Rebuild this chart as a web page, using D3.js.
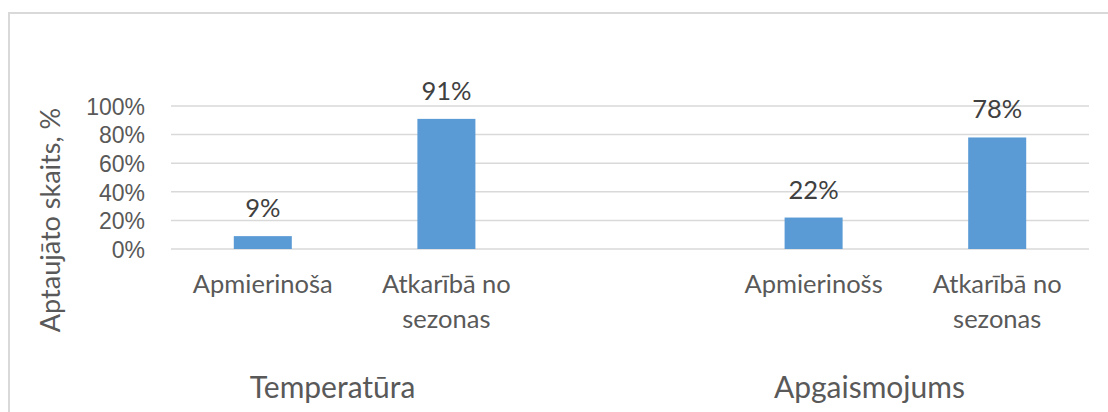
<!DOCTYPE html>
<html>
<head>
<meta charset="utf-8">
<script src="https://cdn.jsdelivr.net/npm/d3@7"></script>
<style>
  body { margin: 0; background: #fff; }
  svg { display: block; font-family: Lato, "Open Sans", sans-serif; }
</style>
</head>
<body>
<svg id="chart" width="1108" height="412"></svg>
<script>
// data
const slots = ["t1", "t2", "gap", "a1", "a2"];
const barSlots = ["t1", "t2", "a1", "a2"];
const categories = [["Apmierinoša"], ["Atkarībā no", "sezonas"], ["Apmierinošs"], ["Atkarībā no", "sezonas"]];
const values = [9, 91, 22, 78];
const groups = ["Temperatūra", "Apgaismojums"];
const groupSlots = [["t1", "t2"], ["a1", "a2"]];
const groupShift = [-22, -36]; // labels sit a bit left of the group middle
const yTicks = [0, 20, 40, 60, 80, 100];
const yTitle = "Aptaujāto skaits, %";

const svg = d3.select("#chart");
const plotL = 171, plotR = 1089, plotT = 106, plotB = 249;

// outer frame
svg.append("rect")
  .attr("x", 9).attr("y", 13)
  .attr("width", 1120).attr("height", 420)
  .attr("fill", "none")
  .attr("stroke", "#d9d9d9")
  .attr("stroke-width", 2);

const x = d3.scaleBand().domain(slots).range([plotL, plotR]).paddingInner(0).paddingOuter(0);
const y = d3.scaleLinear().domain([0, 100]).range([plotB, plotT]);
const barW = x.bandwidth() * 0.316;

// gridlines
svg.append("g")
  .selectAll("line")
  .data(yTicks)
  .enter().append("line")
  .attr("x1", plotL).attr("x2", plotR)
  .attr("y1", d => y(d)).attr("y2", d => y(d))
  .attr("stroke", "#d9d9d9")
  .attr("stroke-width", 1.5);

// y axis labels
const yAxis = svg.append("g")
  .attr("transform", `translate(${plotL - 26},0)`)
  .call(d3.axisLeft(y).tickValues(yTicks).tickSize(0).tickPadding(0).tickFormat(d => d + "%"));
yAxis.select(".domain").remove();
yAxis.selectAll("text")
  .attr("fill", "#595959")
  .style("font-size", "23px")
  .attr("dy", "0.36em");

// y title
svg.append("text")
  .attr("transform", `translate(60,220) rotate(-90)`)
  .attr("text-anchor", "middle")
  .attr("fill", "#595959")
  .style("font-size", "27px")
  .text(yTitle);

// bars
svg.append("g")
  .selectAll("rect")
  .data(values)
  .enter().append("rect")
  .attr("x", (d, i) => x(barSlots[i]) + x.bandwidth() / 2 - barW / 2)
  .attr("y", d => y(d))
  .attr("width", barW)
  .attr("height", d => y(0) - y(d))
  .attr("fill", "#5b9bd5");

// data labels
svg.append("g")
  .selectAll("text")
  .data(values)
  .enter().append("text")
  .attr("x", (d, i) => x(barSlots[i]) + x.bandwidth() / 2)
  .attr("y", d => y(d) - 19)
  .attr("text-anchor", "middle")
  .attr("fill", "#404040")
  .style("font-size", "25.5px")
  .text(d => d + "%");

// category labels
const cat = svg.append("g")
  .selectAll("text")
  .data(categories)
  .enter().append("text")
  .attr("text-anchor", "middle")
  .attr("fill", "#595959")
  .style("font-size", "25.5px");
cat.selectAll("tspan")
  .data((d, i) => d.map(line => ({ line, i })))
  .enter().append("tspan")
  .attr("x", d => x(barSlots[d.i]) + x.bandwidth() / 2)
  .attr("y", (d, j) => 293 + j * 35)
  .text(d => d.line);

// group labels
svg.append("g")
  .selectAll("text")
  .data(groups)
  .enter().append("text")
  .attr("x", (d, i) => {
    const a = x(groupSlots[i][0]), b = x(groupSlots[i][1]) + x.bandwidth();
    return (a + b) / 2 + groupShift[i];
  })
  .attr("y", 398)
  .attr("text-anchor", "middle")
  .attr("fill", "#595959")
  .style("font-size", "30px")
  .text(d => d);
</script>
</body>
</html>
